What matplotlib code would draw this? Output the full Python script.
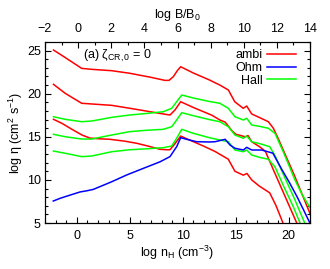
import matplotlib
matplotlib.use("Agg")
import matplotlib.pyplot as plt
from matplotlib.ticker import MultipleLocator

plt.rcParams['font.family'] = ['Liberation Sans', 'DejaVu Sans']
plt.rcParams['mathtext.fontset'] = 'custom'
plt.rcParams['mathtext.rm'] = 'Liberation Sans'
plt.rcParams['mathtext.it'] = 'Liberation Sans:italic'
plt.rcParams['mathtext.bf'] = 'Liberation Sans:bold'

# ---- data (log n_H, log eta) ----
ambi1_x = [-2.2, -1.1, 0.46, 1.4, 3.3, 5.0, 7.0, 8.3, 8.7, 9.1, 9.5, 9.8, 11.0, 12.5, 13.5, 14.3, 14.9, 15.7, 16.03, 16.5, 17.3, 18.07, 18.54, 19.0, 19.5, 20.0, 20.5, 21.0, 21.5, 22.0]
ambi1_y = [25.07, 24.2, 22.94, 22.83, 22.67, 22.37, 21.9, 21.55, 21.55, 21.97, 22.7, 23.13, 22.4, 21.6, 21.0, 20.43, 19.07, 18.31, 18.57, 17.65, 17.2, 16.75, 16.0, 14.8, 13.4, 12.0, 10.6, 9.1, 7.6, 6.1]

ambi2_x = [-2.2, -1.1, 0.46, 1.4, 3.3, 5.0, 6.5, 8.16, 8.79, 9.26, 9.8, 11.0, 12.75, 13.5, 14.0, 14.64, 15.0, 15.9, 16.15, 16.5, 17.3, 17.8, 18.5, 19.5, 20.75]
ambi2_y = [21.09, 20.05, 18.89, 18.81, 18.65, 18.31, 18.0, 17.65, 17.53, 18.11, 19.07, 18.4, 17.5, 16.95, 16.7, 15.7, 15.3, 15.0, 15.15, 14.43, 13.8, 13.3, 11.3, 8.5, 5.0]

ambi3_x = [-2.2, -1.4, -0.5, 0.5, 1.25, 2.0, 3.13, 4.5, 5.65, 6.8, 7.85, 8.5, 8.79, 9.26, 9.8, 10.5, 12.0, 13.04, 14.29, 14.92, 15.71, 16.05, 16.5, 17.2, 18.2, 18.8, 19.45]
ambi3_y = [17.03, 16.56, 15.9, 15.2, 14.85, 14.78, 14.71, 14.5, 14.25, 13.9, 13.55, 13.5, 13.5, 14.2, 15.09, 14.7, 13.9, 13.3, 12.4, 11.0, 10.55, 10.75, 10.0, 9.3, 8.5, 7.0, 5.0]

hall1_x = [-2.2, -1.1, 0.46, 1.4, 3.3, 5.0, 6.5, 8.16, 8.95, 9.42, 9.9, 11.0, 12.5, 13.5, 14.29, 14.92, 15.71, 16.03, 16.5, 17.3, 18.07, 18.7, 19.5, 20.58, 21.3, 22.0]
hall1_y = [17.33, 17.03, 16.75, 16.83, 17.26, 17.53, 17.7, 17.91, 18.31, 19.07, 19.85, 19.5, 19.1, 18.89, 18.31, 17.33, 16.95, 17.15, 16.37, 16.2, 15.99, 15.4, 13.2, 10.0, 8.2, 6.8]

hall2_x = [-2.2, -1.1, 0.46, 1.4, 3.3, 5.0, 6.5, 8.16, 8.95, 9.42, 9.9, 11.0, 12.5, 13.5, 14.29, 14.92, 15.71, 16.03, 16.5, 17.28, 18.2, 18.7, 19.5, 20.5, 21.5]
hall2_y = [15.29, 15.01, 14.74, 14.74, 15.21, 15.6, 15.75, 15.87, 16.17, 16.95, 17.8, 17.45, 17.0, 16.75, 16.17, 15.21, 14.83, 15.09, 14.43, 14.2, 13.85, 12.8, 10.6, 7.9, 5.0]

hall3_x = [-2.2, -1.1, 0.46, 1.4, 3.3, 5.0, 6.5, 8.16, 8.95, 9.42, 9.9, 11.0, 12.5, 13.5, 14.29, 14.92, 15.71, 16.03, 16.5, 17.3, 18.07, 18.7, 19.5, 20.42, 21.06]
hall3_y = [13.35, 13.09, 12.7, 12.77, 13.27, 13.5, 13.6, 13.74, 13.93, 14.83, 15.87, 15.4, 14.9, 14.63, 14.43, 13.47, 13.27, 13.47, 12.89, 12.6, 12.4, 11.5, 9.3, 6.9, 5.0]

ohm_x = [-2.22, -1.58, -1.11, 0.3, 1.0, 1.56, 3.3, 4.7, 6.3, 7.85, 8.79, 9.42, 9.8, 10.37, 11.31, 12.5, 13.04, 14.0, 14.45, 14.92, 15.71, 16.03, 16.5, 17.44, 18.5, 19.3, 20.1, 20.8, 21.4, 21.95]
ohm_y = [7.55, 7.86, 8.05, 8.6, 8.75, 8.9, 9.79, 10.57, 11.35, 12.1, 12.7, 13.85, 14.9, 14.71, 14.43, 14.4, 14.43, 14.71, 14.05, 13.67, 13.47, 13.78, 13.47, 13.47, 13.1, 11.3, 9.6, 8.0, 6.5, 5.1]

legend_labels = ["ambi", "Ohm", "Hall"]
xlim_bottom = (-3, 22)
xlim_top = (-2, 14)
ylim = (5, 26)

RED, BLUE, GREEN = "#ff0000", "#0000ff", "#00ff00"
lw = 1.1
FS = 9

fig = plt.figure(figsize=(3.30, 2.69), dpi=100)
ax = fig.add_axes([45/330, 1-223/269, 265/330, 181/269])

l_ambi, = ax.plot(ambi1_x, ambi1_y, color=RED, lw=lw)
ax.plot(ambi2_x, ambi2_y, color=RED, lw=lw)
ax.plot(ambi3_x, ambi3_y, color=RED, lw=lw)
l_hall, = ax.plot(hall1_x, hall1_y, color=GREEN, lw=lw)
ax.plot(hall2_x, hall2_y, color=GREEN, lw=lw)
ax.plot(hall3_x, hall3_y, color=GREEN, lw=lw)
l_ohm, = ax.plot(ohm_x, ohm_y, color=BLUE, lw=lw)

ax.set_xlim(*xlim_bottom)
ax.set_ylim(*ylim)
ax.xaxis.set_major_locator(MultipleLocator(5))
ax.xaxis.set_minor_locator(MultipleLocator(1))
ax.yaxis.set_major_locator(MultipleLocator(5))
ax.yaxis.set_minor_locator(MultipleLocator(1))
ax.tick_params(which='both', direction='in', labelsize=FS, right=True, top=False, width=0.8)
ax.tick_params(which='major', length=4)
ax.tick_params(which='minor', length=2.5)
ax.tick_params(axis='x', pad=5)
ax.tick_params(axis='y', pad=3)
for s in ax.spines.values():
    s.set_linewidth(0.8)

ax.set_xlabel(r"log n$_{\rm H}$ (cm$^{-3}$)", fontsize=FS, labelpad=1)
ax.set_ylabel(r"log η (cm$^{2}$ s$^{-1}$)", fontsize=FS, labelpad=1)

ax2 = ax.twiny()
ax2.set_xlim(*xlim_top)
ax2.xaxis.set_major_locator(MultipleLocator(2))
ax2.xaxis.set_minor_locator(MultipleLocator(1))
ax2.tick_params(which='both', direction='in', labelsize=FS, width=0.8, pad=5)
ax2.tick_params(which='major', length=4)
ax2.tick_params(which='minor', length=2.5)
ax2.set_xlabel(r"log B/B$_{0}$", fontsize=FS, labelpad=4)

ax.text(0.143, 0.925, r"(a) ζ$_{\rm CR,0}$ = 0", transform=ax.transAxes,
        fontsize=FS, ha='left', va='center')

leg = ax.legend([l_ambi, l_ohm, l_hall], legend_labels, loc='upper right',
                bbox_to_anchor=(0.985, 1.015), frameon=False, markerfirst=False,
                fontsize=FS, handlelength=2.3, handletextpad=0.4, labelspacing=0.05,
                borderpad=0.3)

fig.savefig("out.png", dpi=100)
